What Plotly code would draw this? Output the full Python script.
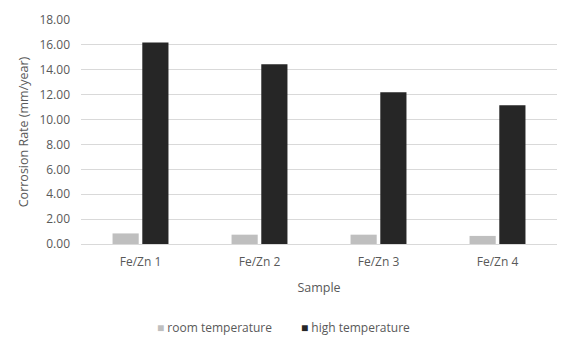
import plotly.graph_objects as go

categories = ["Fe/Zn 1", "Fe/Zn 2", "Fe/Zn 3", "Fe/Zn 4"]
room_temp = [0.85, 0.75, 0.75, 0.65]
high_temp = [16.2, 14.45, 12.2, 11.15]
y_ticks = [0, 2, 4, 6, 8, 10, 12, 14, 16, 18]
series_names = ["room temperature", "high temperature"]
series_colors = ["#bfbfbf", "#262626"]

font = "Open Sans"
txt = "#595959"

# page body adds an 8px offset; plot area targets x 81-557, y 20-244 on screen
L, T, W, H = 73, 12, 476, 224

fig = go.Figure()
fig.add_trace(go.Bar(x=categories, y=room_temp, name=series_names[0],
                     marker=dict(color=series_colors[0], line=dict(width=0))))
fig.add_trace(go.Bar(x=categories, y=high_temp, name=series_names[1],
                     marker=dict(color=series_colors[1], line=dict(width=0))))

fig.update_layout(
    width=571, height=345,
    margin=dict(l=L, r=571 - L - W, t=T, b=345 - T - H, autoexpand=False),
    paper_bgcolor="white", plot_bgcolor="white",
    barmode="group", bargap=0.5, bargroupgap=0.12,
    font=dict(family=font, size=12, color=txt),
    showlegend=False,
    xaxis=dict(title=dict(text="Sample", font=dict(size=12.5, color=txt), standoff=14),
               automargin=False, ticklabelstandoff=9,
               showgrid=False, showline=False, ticks="",
               tickfont=dict(size=12, color=txt)),
    yaxis=dict(title=dict(text="Corrosion Rate (mm/year)", font=dict(size=12.5, color=txt), standoff=8),
               automargin=False, ticklabelstandoff=10,
               range=[0, 18], tickvals=y_ticks,
               ticktext=[f"{v:.2f}" for v in y_ticks],
               showgrid=True, gridcolor="#d9d9d9", gridwidth=1,
               zeroline=True, zerolinecolor="#d9d9d9", zerolinewidth=1,
               showline=False, ticks="", tickfont=dict(size=12, color=txt)),
)

# legend drawn as text entries
leg_x = [155 - 8, 299 - 8]
leg_y = 327 - 8
for name, color, lx in zip(series_names, series_colors, leg_x):
    fig.add_annotation(xref="paper", yref="paper", x=(lx - L) / W, y=(T + H - leg_y) / H,
                       xanchor="left", yanchor="middle", showarrow=False,
                       text=f"<span style='color:{color}'>■</span> {name}",
                       font=dict(size=12, color=txt))

fig.write_html("out.html")
